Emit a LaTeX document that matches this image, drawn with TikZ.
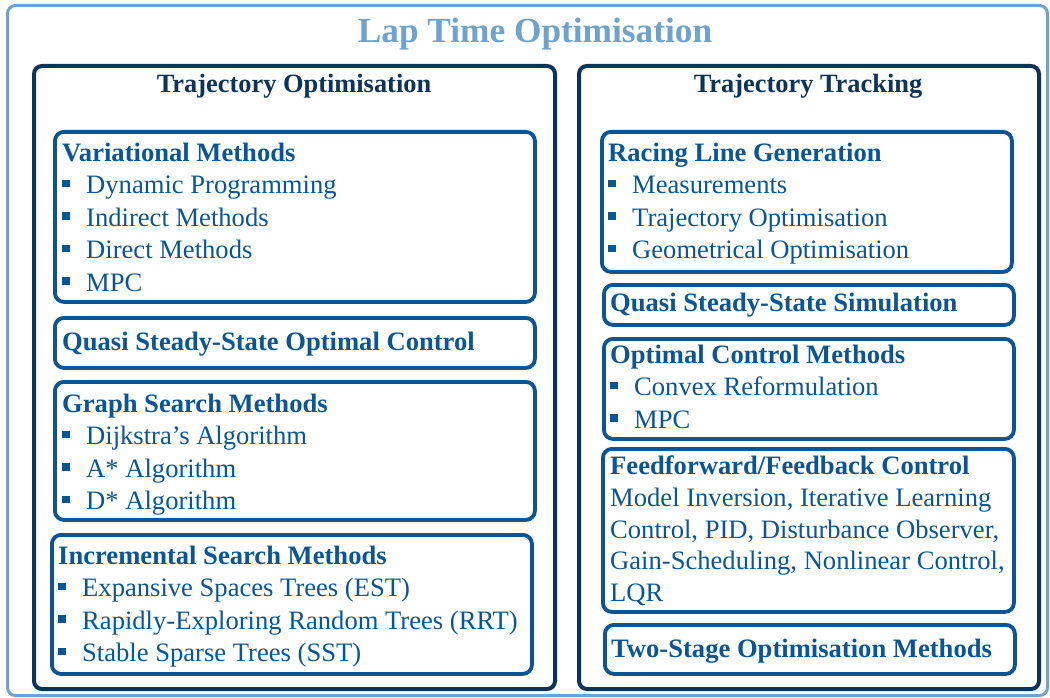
\documentclass[tikz,border=0pt]{standalone}
\usepackage{fontspec}
\setmainfont{Liberation Serif}
\usepackage{tikz}
\usetikzlibrary{positioning}
\usepackage{xcolor}
\definecolor{lapblue}{HTML}{6FA3CD}
\definecolor{navy}{HTML}{0C3358}
\definecolor{midblue}{HTML}{0B5595}
\newcommand{\sq}{\makebox[24pt][l]{\rule[6.5pt]{7.5pt}{7.5pt}}}

\begin{document}
\begin{tikzpicture}[x=1pt,y=-1pt,
  outerbox/.style={draw=lapblue,line width=3pt,rounded corners=8pt,inner sep=0pt,anchor=north west},
  groupbox/.style={draw=navy,line width=4pt,rounded corners=8pt,inner sep=0pt,anchor=north west},
  methodbox/.style={draw=midblue,line width=3.8pt,rounded corners=9pt,inner sep=0pt,anchor=north west},
  txt/.style={inner sep=0pt,anchor=north west,align=left,text=midblue,font=\fontsize{26.6}{32.5}\selectfont}]
\useasboundingbox (0,0) rectangle (1050,698);
\node[outerbox,minimum width=1040,minimum height=690] (lap) at (6,4) {};
\node[font=\fontsize{35.3}{40}\selectfont\bfseries,text=lapblue,anchor=base,inner sep=0pt] (lapT) at (535,43) {Lap Time Optimisation};
% the two groups
\node[groupbox,minimum width=521,minimum height=623] (optim) at (32,64) {};
\node[groupbox,minimum width=460,minimum height=623] (track) at (577,64) {};
\node[font=\fontsize{26.4}{32.5}\selectfont\bfseries,text=navy,anchor=base,inner sep=0pt] (optimT) at (294,93) {Trajectory Optimisation};
\node[font=\fontsize{26.4}{32.5}\selectfont\bfseries,text=navy,anchor=base,inner sep=0pt] (trackT) at (808,93) {Trajectory Tracking};
% left column
\node[methodbox,minimum width=480,minimum height=170] (var) at (53,130) {};
\node[txt] (varT) at (62,138.25) {\strut\textbf{Variational Methods}\\\sq Dynamic Programming\\\sq Indirect Methods\\\sq Direct Methods\\\sq MPC};
\node[methodbox,minimum width=480,minimum height=50] (qssoc) at (53,316) {};
\node[txt] (qssocT) at (62,327.25) {\strut\textbf{Quasi Steady-State Optimal Control}};
\node[methodbox,minimum width=480,minimum height=138] (graph) at (53,380) {};
\node[txt] (graphT) at (62,389.25) {\strut\textbf{Graph Search Methods}\\\sq Dijkstra’s Algorithm\\\sq A* Algorithm\\\sq D* Algorithm};
\node[methodbox,minimum width=480,minimum height=139] (incr) at (50,533) {};
\node[txt] (incrT) at (58,541.25) {\strut\textbf{Incremental Search Methods}\\\sq Expansive Spaces Trees (EST)\\\sq Rapidly-Exploring Random Trees (RRT)\\\sq Stable Sparse Trees (SST)};
% right column
\node[methodbox,minimum width=410,minimum height=140] (racing) at (600,130) {};
\node[txt] (racingT) at (608,138.25) {\strut\textbf{Racing Line Generation}\\\sq Measurements\\\sq Trajectory Optimisation\\\sq Geometrical Optimisation};
\node[methodbox,minimum width=410,minimum height=40] (qsssim) at (602,283) {};
\node[txt] (qsssimT) at (610,288.25) {\strut\textbf{Quasi Steady-State Simulation}};
\node[methodbox,minimum width=410,minimum height=100] (optctrl) at (602,337) {};
\node[txt] (optctrlT) at (610,340.25) {\strut\textbf{Optimal Control Methods}\\\sq Convex Reformulation\\\sq MPC};
\node[methodbox,minimum width=411,minimum height=163] (ffb) at (601,447) {};
\node[txt,font=\fontsize{26.6}{31.75}\selectfont] (ffbT) at (610,452.25) {\strut\textbf{Feedforward/Feedback Control}\\Model Inversion, Iterative Learning\\Control, PID, Disturbance Observer,\\Gain-Scheduling, Nonlinear Control,\\LQR};
\node[methodbox,minimum width=410,minimum height=49] (twostage) at (603,623) {};
\node[txt] (twostageT) at (611,634.25) {\strut\textbf{Two-Stage Optimisation Methods}};
\end{tikzpicture}
\end{document}
